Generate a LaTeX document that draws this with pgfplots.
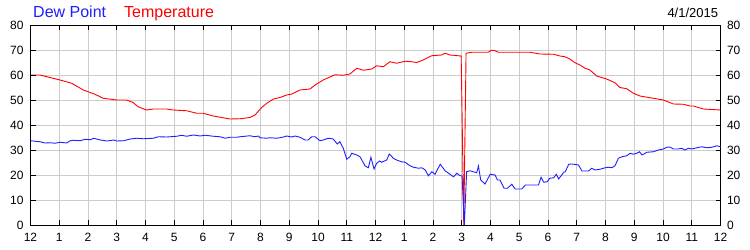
\documentclass[border=0pt]{standalone}
\usepackage{pgfplots}
\pgfplotsset{compat=1.18}
\usepackage{fontspec}
\setmainfont{Liberation Sans}
\definecolor{gridgray}{RGB}{204,204,204}
\definecolor{dpblue}{RGB}{30,30,255}
\definecolor{tred}{RGB}{255,0,0}
\begin{document}
\begin{tikzpicture}
\pgfplotsset{
  base/.style={
    at={(30.5bp,25bp)}, anchor=south west,
    scale only axis, width=690bp, height=200bp,
    xmin=0, xmax=24, ymin=0, ymax=80,
    xtick={0,...,24},
    ytick={0,10,...,80},
    tick align=inside, major tick length=5bp,
    tick style={black, line width=0.8pt},
    axis line style={black, line width=1pt},
    /pgf/number format/assume math mode=true,
    ticklabel style={font=\fontsize{12bp}{14bp}\selectfont},
  }
}
\begin{axis}[base,
  grid=major, major grid style={gridgray, line width=0.8pt},
  xticklabels={12,1,2,3,4,5,6,7,8,9,10,11,12,1,2,3,4,5,6,7,8,9,10,11,12},
  xticklabel style={yshift=-5bp},
  yticklabel style={xshift=-3.5bp},
  xtick pos=both, ytick pos=both,
]
\addplot[tred, line width=0.9pt] coordinates {
(0,60) (0.33,60) (0.68,59) (1.03,58) (1.43,56.7) (1.84,54) (2.24,52.3) (2.53,50.7)
(3.0,50) (3.34,50) (3.57,49) (3.74,47.3) (4.04,46) (4.27,46.4) (4.74,46.4) (4.96,46)
(5.43,45.7) (5.78,44.7) (6.0,44.7) (6.36,43.6) (6.94,42.4) (7.29,42.5) (7.63,43)
(7.81,44) (8.04,47) (8.22,48.7) (8.45,50.4) (8.68,51) (8.91,52) (9.09,52.4) (9.37,54)
(9.72,54.4) (9.9,56) (10.18,58) (10.59,60.1) (10.88,59.9) (11.11,60.4) (11.35,62.7)
(11.58,61.9) (11.87,62.4) (12.04,63.7) (12.27,63.3) (12.5,65.3) (12.73,64.7)
(13.03,65.5) (13.26,65.3) (13.43,65) (13.66,66) (13.95,67.7) (14.3,68) (14.42,68.7)
(14.59,68) (14.98,67.6) (15.07,0) (15.15,68.7) (15.35,69.1) (15.92,69.1) (16.04,69.9)
(16.16,69.7) (16.27,69.1) (17.37,69.1) (17.72,68.4) (18.19,68.3) (18.42,67.6)
(18.59,67.3) (18.77,66.3) (18.94,64.9) (19.11,64) (19.29,62.7) (19.46,62) (19.69,59.6)
(20.04,58.4) (20.33,56.9) (20.5,55) (20.74,54.5) (20.97,52.7) (21.2,51.6) (21.66,50.7)
(22.01,50) (22.36,48.4) (22.71,48.3) (22.94,47.6) (23.06,47.6) (23.41,46.4) (24,46)
};
\addplot[dpblue, line width=0.9pt] coordinates {
(0,33.7) (0.33,33.3) (0.51,32.8) (0.68,32.9) (0.86,32.7) (1.03,33.1) (1.26,32.8)
(1.38,33.7) (1.5,33.9) (1.73,33.7) (1.9,34.3) (2.08,34.1) (2.2,34.7) (2.43,34)
(2.66,33.6) (2.9,34) (3.0,33.6) (3.24,33.7) (3.47,34.4) (3.7,34.7) (3.93,34.5)
(4.27,34.7) (4.45,35.3) (4.74,35.2) (5.09,35.5) (5.26,35.9) (5.43,35.5) (5.67,36)
(5.9,35.6) (6.07,35.9) (6.36,35.5) (6.59,35.3) (6.77,34.7) (6.94,35.1) (7.17,35.1)
(7.29,35.3) (7.63,35.7) (7.81,35.3) (7.93,35.6) (7.98,34.9) (8.22,34.7) (8.33,34.9)
(8.57,34.7) (8.8,35.2) (8.91,35.6) (9.09,35.2) (9.2,35.6) (9.37,35.1) (9.55,34)
(9.66,34) (9.78,35.3) (9.9,35.3) (10.07,33.7) (10.18,34) (10.36,34.7) (10.53,34.4)
(10.67,32.4) (10.76,33.3) (10.88,30.7) (11.0,26.3) (11.11,27.3) (11.17,28.7)
(11.35,28) (11.46,27.3) (11.64,23.6) (11.75,22.9) (11.84,27.1) (11.95,22.4)
(12.04,24.7) (12.15,25.6) (12.21,25.1) (12.39,26) (12.48,28.4) (12.62,26.7)
(12.73,26) (12.9,25.3) (13.03,25.1) (13.2,23.7) (13.32,23.1) (13.5,22.7) (13.61,22.9)
(13.73,22) (13.84,19.7) (13.96,21.3) (14.07,20.3) (14.25,24.3) (14.42,21.7)
(14.59,20.3) (14.71,19.3) (14.83,20.7) (14.94,19.7) (15.01,19.7) (15.09,0)
(15.17,21.3) (15.29,21.7) (15.52,20.9) (15.58,23.6) (15.66,18) (15.81,16.4)
(15.99,20.3) (16.16,20) (16.24,18) (16.33,18) (16.47,14.7) (16.59,14.7) (16.74,16.3)
(16.86,14.4) (17.09,14.4) (17.21,16) (17.67,16) (17.76,19.1) (17.85,17.1) (17.97,17.3)
(18.06,18.7) (18.2,18.9) (18.29,20.3) (18.37,18.4) (18.55,21.1) (18.6,21.3)
(18.72,24.3) (18.83,24.4) (19.06,24) (19.18,21.6) (19.41,21.6) (19.52,22.7)
(19.64,22) (19.81,22.3) (19.99,22.9) (20.1,23.1) (20.22,22.9) (20.33,23.7)
(20.45,26.7) (20.57,27.3) (20.74,27.7) (20.86,28.7) (20.97,28.3) (21.09,28.7)
(21.18,29.3) (21.27,28) (21.44,29.1) (21.67,29.3) (21.84,30) (22.01,30.4) (22.13,31.1)
(22.24,31.2) (22.36,30.4) (22.53,30.4) (22.65,30.7) (22.76,30) (22.88,30.7) (23.0,30.4)
(23.18,30.9) (23.35,31.3) (23.52,30.9) (23.7,31.1) (23.87,31.7) (24,31.3)
};
\end{axis}
\begin{axis}[base,
  xticklabels={}, xtick pos=both,
  yticklabel pos=right, ytick pos=both,
  yticklabel style={xshift=3bp},
  axis line style={draw=none},
]
\end{axis}
\node[anchor=base west, inner sep=0, font=\fontsize{16bp}{18bp}\selectfont, text=dpblue] at (33bp,232.7bp) {Dew Point};
\node[anchor=base west, inner sep=0, font=\fontsize{16bp}{18bp}\selectfont, text=tred] at (124bp,232.7bp) {Temperature};
\node[anchor=base east, inner sep=0, font=\fontsize{13bp}{15bp}\selectfont] at (718.3bp,232.7bp) {4/1/2015};
\pgfresetboundingbox
\path[use as bounding box] (0bp,0bp) rectangle (750bp,250bp);
\end{tikzpicture}
\end{document}
